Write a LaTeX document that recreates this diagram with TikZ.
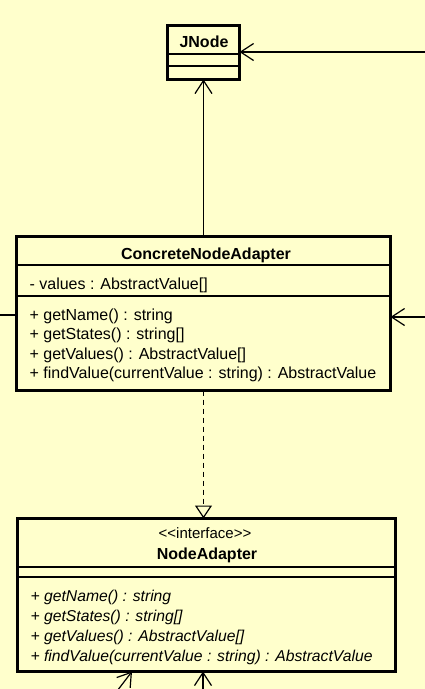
\documentclass[tikz,border=0pt]{standalone}
\usepackage{fontspec}
\setmainfont{Liberation Sans}
\usetikzlibrary{arrows.meta}
\definecolor{umlfill}{HTML}{FFFFCC}

\begin{document}
\begin{tikzpicture}[x=1pt,y=-1pt,line width=1.2pt,
class/.style={draw=black,line width=3pt,fill=umlfill,inner sep=0pt,outer sep=0pt},
member/.style={anchor=base west,inner sep=0pt,font=\fontsize{16}{19}\selectfont},
opmember/.style={member,font=\fontsize{15.7}{19}\selectfont\itshape},
classname/.style={anchor=base,inner sep=0pt,font=\fontsize{16}{19}\selectfont\bfseries},
assoc/.style={-{Straight Barb[length=13pt,width=17pt]}},
realize/.style={-{Triangle[open,length=13pt,width=17pt]},dash pattern=on 5pt off 4pt}]
\useasboundingbox (0,0) rectangle (425,689);
\fill[umlfill] (0,0) rectangle (425,689);
\clip (0,0) rectangle (425,689);

% classes
\node[class,minimum width=72pt,minimum height=54pt] (jnode) at (203.5,52.5) {};
\node[class,minimum width=374pt,minimum height=154pt] (concrete) at (203.5,313.5) {};
\node[class,minimum width=378pt,minimum height=153pt] (adapter) at (206.5,595) {};

\draw (jnode.north west) ++(0,28.5) -- ++(72,0);
\draw (jnode.north west) ++(0,40.5) -- ++(72,0);
\draw (concrete.north west) ++(0,28.5) -- ++(374,0);
\draw (concrete.north west) ++(0,59.5) -- ++(374,0);
\draw (adapter.north west) ++(0,48.5) -- ++(378,0);
\draw (adapter.north west) ++(0,58.5) -- ++(378,0);

\node[classname] (jname) at (204,47.5) {JNode};

\node[classname] (cname) at (206,259) {ConcreteNodeAdapter};
\node[member] (cvalues) at (29,289) {- values : AbstractValue[]};
\node[member] (cgetname) at (29,320) {+ getName() : string};
\node[member] (cgetstates) at (29,339.5) {+ getStates() : string[]};
\node[member] (cgetvalues) at (29,359) {+ getValues() : AbstractValue[]};
\node[member] (cfindvalue) at (29,378.5) {+ findValue(currentValue : string) : AbstractValue};

\node[anchor=base,inner sep=0pt,font=\fontsize{15}{18}\selectfont] (astereo) at (205,538) {{<}{<}interface{>}{>}};
\node[classname] (aname) at (207,559) {NodeAdapter};
\node[opmember] (agetname) at (30,601) {+ getName() : string};
\node[opmember] (agetstates) at (30,621) {+ getStates() : string[]};
\node[opmember] (agetvalues) at (30,641) {+ getValues() : AbstractValue[]};
\node[opmember] (afindvalue) at (30,661) {+ findValue(currentValue : string) : AbstractValue};

% connectors
\coordinate (jfrom) at (430,52);
\coordinate (cleft) at (-5,315);
\coordinate (cfrom) at (430,317);
\coordinate (afrom1) at (114,695);
\coordinate (afrom2) at (203,695);

\draw[assoc] (concrete.north) -- (jnode.south);
\draw[assoc] (jfrom) -- (jfrom -| jnode.east);
\draw (cleft) -- (cleft -| concrete.west);
\draw[assoc] (cfrom) -- (cfrom -| concrete.east);
\draw[realize] (concrete.south) -- (concrete.south |- adapter.north);
\draw[assoc] (afrom1) -- ([xshift=114.5pt]adapter.south west);
\draw[assoc] (afrom2) -- (afrom2 |- adapter.south);

\end{tikzpicture}
\end{document}
